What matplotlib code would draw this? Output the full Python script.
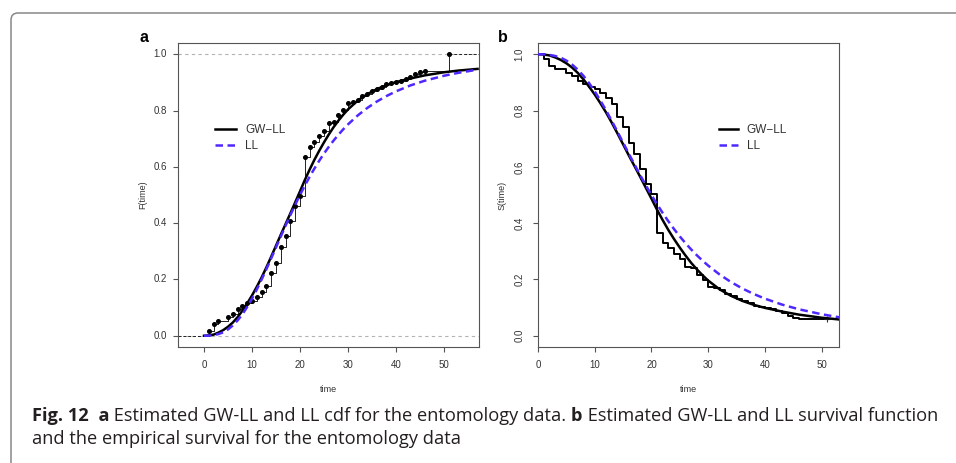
import numpy as np
import matplotlib
matplotlib.use("Agg")
import matplotlib.pyplot as plt
from matplotlib.patches import FancyBboxPatch
from matplotlib.transforms import IdentityTransform

# 数据
obs_time = [1, 2, 3, 5, 6, 7, 8, 9, 10, 11, 12, 13, 14, 15, 16, 17, 18, 19, 20,
            21, 22, 23, 24, 25, 26, 27, 28, 29, 30, 31, 32, 33, 34, 35, 36, 37,
            38, 39, 40, 41, 42, 43, 44, 45, 46, 51]
ecdf_val = [0.018, 0.041, 0.053, 0.065, 0.076, 0.094, 0.106, 0.115, 0.123,
            0.139, 0.157, 0.175, 0.222, 0.257, 0.315, 0.355, 0.407, 0.460,
            0.496, 0.635, 0.671, 0.687, 0.711, 0.728, 0.756, 0.760, 0.785,
            0.803, 0.826, 0.832, 0.838, 0.852, 0.859, 0.868, 0.876, 0.885,
            0.894, 0.899, 0.903, 0.906, 0.911, 0.918, 0.930, 0.936, 0.942, 1.0]

curve_t = [0, 1, 2, 3, 4, 5, 6, 7, 8, 9, 10, 11, 12, 13, 14, 15, 16, 17, 18,
           19, 20, 21, 22, 23, 24, 25, 26, 27, 28, 29, 30, 32, 34, 36, 38, 40,
           43, 46, 50, 53, 57]
gwll_cdf = [0.0, 0.001, 0.004, 0.011, 0.020, 0.032, 0.047, 0.066, 0.089,
            0.115, 0.143, 0.174, 0.207, 0.243, 0.281, 0.320, 0.359, 0.397,
            0.435, 0.474, 0.513, 0.553, 0.590, 0.625, 0.657, 0.687, 0.715,
            0.741, 0.764, 0.785, 0.804, 0.835, 0.858, 0.876, 0.890, 0.901,
            0.914, 0.925, 0.936, 0.942, 0.948]
ll_cdf = [0.0, 0.0003, 0.002, 0.006, 0.012, 0.0225, 0.0365, 0.0544, 0.0764,
          0.1023, 0.1318, 0.1644, 0.1996, 0.2365, 0.2749, 0.3138, 0.3527,
          0.3912, 0.4288, 0.4652, 0.5, 0.5331, 0.5645, 0.5939, 0.6215, 0.6473,
          0.6712, 0.6934, 0.7141, 0.7332, 0.7508, 0.7822, 0.8090, 0.8319,
          0.8514, 0.8682, 0.8892, 0.9060, 0.9236, 0.9341, 0.9453]

x_ticks = [0, 10, 20, 30, 40, 50]
y_ticks = [0.0, 0.2, 0.4, 0.6, 0.8, 1.0]
y_labels = ["0.0", "0.2", "0.4", "0.6", "0.8", "1.0"]

BLUE = "#5028ff"
AXC = "#555555"
TXT = "#333333"
RFONT = ["Liberation Sans", "DejaVu Sans"]

plt.rcParams["font.family"] = RFONT

W, H = 956, 463
fig = plt.figure(figsize=(W / 100, H / 100), dpi=100)

# 外框（只看到左上角）
frame = FancyBboxPatch((11, -60), 1100, H - 13 + 60,
                       boxstyle="round,pad=0,rounding_size=7",
                       transform=IdentityTransform(), fill=False,
                       edgecolor="#888888", linewidth=1.1)
fig.add_artist(frame)


def style_axes(ax, rot_y):
    for s in ax.spines.values():
        s.set_color(AXC)
        s.set_linewidth(0.8)
    ax.set_xticks(x_ticks)
    ax.set_yticks(y_ticks)
    ax.set_yticklabels(y_labels, rotation=90 if rot_y else 0,
                       va="center")
    ax.tick_params(direction="out", length=3.5, width=0.8, color=AXC,
                   labelsize=7, labelcolor=TXT)
    ax.tick_params(axis="x", pad=6)
    ax.tick_params(axis="y", pad=6 if rot_y else 4.5)
    ax.set_ylim(-0.04, 1.04)


# 面板 a
ax1 = fig.add_axes([178 / W, 1 - 347 / H, 301 / W, 304 / H])
style_axes(ax1, False)
ax1.set_xlim(-5.42, 57.3)
ax1.axhline(0, color="#b3b3b3", lw=0.8, ls=(0, (3, 3)), zorder=1)
ax1.axhline(1, color="#b3b3b3", lw=0.8, ls=(0, (3, 3)), zorder=1)
xl = ax1.get_xlim()
ax1.plot([xl[0], obs_time[0]], [0, 0], color="#222222", lw=0.7,
         ls=(0, (3, 2)), zorder=2)
ax1.plot([obs_time[-1], xl[1]], [ecdf_val[-1], ecdf_val[-1]],
         color="#222222", lw=0.7, ls=(0, (3, 2)), zorder=2)
ax1.step([obs_time[0]] + obs_time, [0] + ecdf_val, where="post",
         color="#222222", lw=0.7, zorder=2)
ax1.plot(obs_time, ecdf_val, "o", color="black", ms=2.6, zorder=3)
ax1.plot(curve_t, gwll_cdf, color="black", lw=1.8, label="GW\u2212LL",
         zorder=4)
ax1.plot(curve_t, ll_cdf, color=BLUE, lw=1.8, ls=(0, (3, 1.8)), label="LL",
         zorder=4)
ax1.set_xlabel("time", fontsize=6.5, color=TXT, va="center")
ax1.xaxis.set_label_coords(0.5, -43 / 304)
ax1.set_ylabel("F(time)", fontsize=6.5, color=TXT, va="center")
ax1.yaxis.set_label_coords(-35 / 301, 0.5)
ax1.legend(loc="center left", bbox_to_anchor=(37 / 301, 209 / 304),
           frameon=False, fontsize=8.5, handlelength=1.8, handletextpad=0.75,
           labelspacing=0.35, borderpad=0, borderaxespad=0, labelcolor=TXT)
fig.text(144 / W, 1 - 37 / H, "a", fontsize=11.5, fontweight="bold",
         ha="center", va="center")

# 面板 b
surv_t = [0] + obs_time[:-1] + [obs_time[-1]]
surv_v = [1.0] + [1 - v for v in ecdf_val[:-1]] + [1 - ecdf_val[-2]]
ax2 = fig.add_axes([538 / W, 1 - 347 / H, 301 / W, 304 / H])
style_axes(ax2, True)
ax2.set_xlim(0, 53.06)
ax2.step(surv_t, surv_v, where="post", color="black", lw=1.4, zorder=3)
ax2.plot([surv_t[-1]], [surv_v[-1]], "+", color="#333333", ms=5, mew=0.8,
         zorder=3)
ax2.plot(curve_t, [1 - v for v in gwll_cdf], color="black", lw=1.8,
         label="GW\u2212LL", zorder=4)
ax2.plot(curve_t, [1 - v for v in ll_cdf], color=BLUE, lw=1.8,
         ls=(0, (3, 1.8)), label="LL", zorder=4)
ax2.set_xlabel("time", fontsize=6.5, color=TXT, va="center")
ax2.xaxis.set_label_coords(0.5, -43 / 304)
ax2.set_ylabel("S(time)", fontsize=6.5, color=TXT, va="center")
ax2.yaxis.set_label_coords(-36 / 301, 0.5)
ax2.legend(loc="center left", bbox_to_anchor=(181 / 301, 209 / 304),
           frameon=False, fontsize=8.5, handlelength=1.6, handletextpad=0.75,
           labelspacing=0.35, borderpad=0, borderaxespad=0, labelcolor=TXT)
fig.text(503 / W, 1 - 37 / H, "b", fontsize=11.5, fontweight="bold",
         ha="center", va="center")

# 图注
CAP_FONT = ["Open Sans", "DejaVu Sans"]
renderer = fig.canvas.get_renderer()


def put_runs(x_px, base_px, runs, size):
    x = x_px
    texts = []
    for s, w in runs:
        t = fig.text(x / W, 1 - base_px / H, s, fontsize=size, fontweight=w,
                     family=CAP_FONT, color="#231f20", va="baseline")
        bb = t.get_window_extent(renderer)
        x = bb.x1
        texts.append(t)
    return texts, x


cap1 = [("Fig. 12", "bold"), ("  a", "bold"),
        (" Estimated GW-LL and LL cdf for the entomology data. ", "normal"),
        ("b", "bold"), (" Estimated GW-LL and LL survival function", "normal")]
cap2 = [("and the empirical survival for the entomology data", "normal")]

# 按参考图的行宽调整字号
size = 10.0
tmp, x_end = put_runs(32, 421, cap1, size)
for t in tmp:
    t.remove()
size = size * (940 - 32) / (x_end - 32)
put_runs(32, 421, cap1, size)
put_runs(32, 444, cap2, size)

fig.savefig("out.png", dpi=100)
